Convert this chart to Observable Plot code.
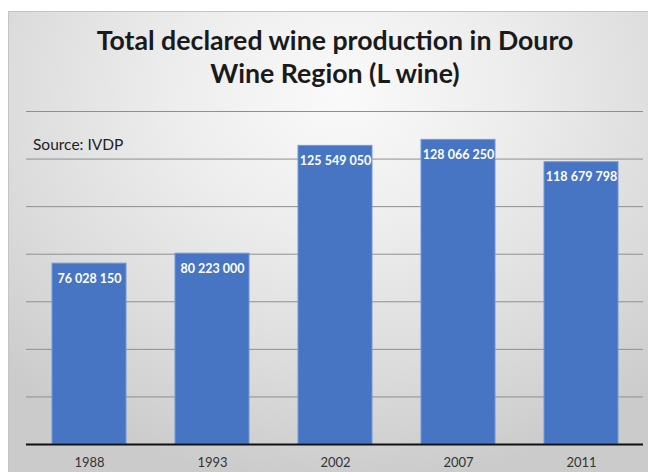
<!DOCTYPE html>
<html>
<head>
<meta charset="utf-8">
<script src="https://cdn.jsdelivr.net/npm/d3@7"></script>
<script src="https://cdn.jsdelivr.net/npm/@observablehq/plot@0.6"></script>
<style>
  html, body { margin: 0; padding: 0; background: #fff; }
  #wrap { position: relative; width: 648px; height: 472px; overflow: hidden; }
  #panel { position: absolute; left: 8px; top: 11px; width: 640px; height: 461px;
    border-top: 1px solid #c4c4c4; border-left: 1px solid #c4c4c4; box-sizing: border-box;
    background: radial-gradient(ellipse 75% 85% at 52% 18%, #fafafa 0%, #ededed 35%, #dcdcdc 70%, #cbcbcb 100%); }
  #title { position: absolute; left: 8px; width: 654px; top: 24px; text-align: center;
    font-family: Lato, sans-serif; font-weight: bold; font-size: 26.7px; line-height: 33px; color: #1a1a1a; }
  #source { position: absolute; left: 33px; top: 135px; font-family: Lato, sans-serif; font-size: 15.5px; color: #222; }
  #chart { position: absolute; left: 0; top: 0; }
</style>
</head>
<body>
<div id="wrap">
  <div id="panel"></div>
  <div id="title">Total declared wine production in Douro<br>Wine Region (L wine)</div>
  <div id="source">Source: IVDP</div>
  <div id="chart"></div>
</div>
<script>
const years = ["1988", "1993", "2002", "2007", "2011"];
const values = [76028150, 80223000, 125549050, 128066250, 118679798];
const labels = ["76 028 150", "80 223 000", "125 549 050", "128 066 250", "118 679 798"];
const gridTicks = [20e6, 40e6, 60e6, 80e6, 100e6, 120e6, 140e6];

const data = years.map((y, i) => ({year: y, value: values[i], label: labels[i]}));

const chart = Plot.plot({
  width: 648,
  height: 472,
  marginTop: 111,
  marginBottom: 28,
  marginLeft: 26,
  marginRight: 5,
  style: {background: "transparent", fontFamily: "Lato, sans-serif"},
  x: {domain: years, paddingInner: 0.4, paddingOuter: 0.2, label: null},
  y: {domain: [0, 140e6], axis: null},
  marks: [
    Plot.ruleY(gridTicks, {stroke: "#8f8f8f", strokeWidth: 1}),
    Plot.barY(data, {x: "year", y: "value", fill: "#4775c3", stroke: "#7199d9", strokeWidth: 1}),
    Plot.ruleY([0], {stroke: "#111", strokeWidth: 2}),
    Plot.text(data, {x: "year", y: "value", text: "label", dy: 15, fill: "#ffffff", fontSize: 12.5, fontWeight: "bold"}),
    Plot.axisX({tickSize: 0, tickPadding: 13, fontSize: 13, fill: "#333", label: null})
  ]
});
document.getElementById("chart").appendChild(chart);
</script>
</body>
</html>
